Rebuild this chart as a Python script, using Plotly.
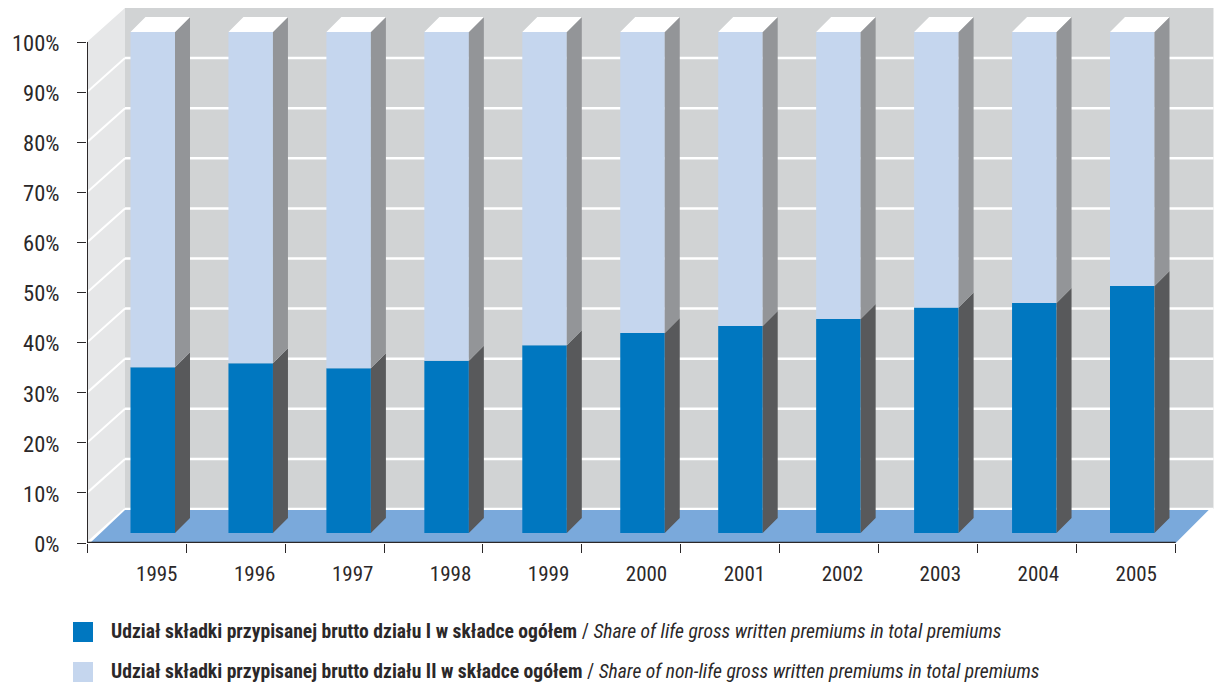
import plotly.graph_objects as go

years = [1995, 1996, 1997, 1998, 1999, 2000, 2001, 2002, 2003, 2004, 2005]
life_share = [33.1, 33.9, 32.9, 34.4, 37.5, 39.9, 41.3, 42.7, 45.0, 45.9, 49.3]
nonlife_share = [66.9, 66.1, 67.1, 65.6, 62.5, 60.1, 58.7, 57.3, 55.0, 54.1, 50.7]
y_ticks = [0, 10, 20, 30, 40, 50, 60, 70, 80, 90, 100]
y_labels = ["0%", "10%", "20%", "30%", "40%", "50%", "60%", "70%", "80%", "90%", "100%"]
legend_pl = ["Udział składki przypisanej brutto działu I w składce ogółem",
             "Udział składki przypisanej brutto działu II w składce ogółem"]
legend_en = ["Share of life gross written premiums in total premiums",
             "Share of non-life gross written premiums in total premiums"]

W, H = 1219, 688
FONT = "Roboto"
INK = "#2b2829"
BLUE, LIGHT = "#0077c0", "#c5d6ee"
SIDE_DARK, SIDE_MID = "#58595b", "#939598"
BACK, LEFT, FLOOR = "#d1d3d4", "#e6e7e8", "#7aa9db"

# scale: 97.95 px per year, 5.01 px per percent
PX_X, PX_Y = 97.95, 5.01
X0 = 1995 - (152.75 - 87) / PX_X
X1 = 1995 + (1213.7 - 152.75) / PX_X
Y1 = (543 - 8) / PX_Y
BAR_W = 44.5 / PX_X
LIFT = 10 / PX_Y                 # bars stand this far in front of the axis plane
DX, DY = 15 / PX_X, 15 / PX_Y    # bar depth
WX, WY = 38 / PX_X, 34 / PX_Y    # room depth
CELL = 98.97 / PX_X
XEND = X0 + 11 * CELL


def poly(points):
    return "M" + " L".join(f"{x:.4f},{y:.4f}" for x, y in points) + " Z"


def seg(x0, y0, x1, y1, color, width, layer="below"):
    return dict(type="line", xref="x", yref="y", x0=x0, y0=y0, x1=x1, y1=y1,
                line=dict(color=color, width=width), layer=layer)


shapes = [
    dict(type="path", xref="x", yref="y", layer="below", line_width=0, fillcolor=BACK,
         path=poly([(X0 + WX, WY), (X1, WY), (X1, Y1), (X0 + WX, Y1)])),
    dict(type="path", xref="x", yref="y", layer="below", line_width=0, fillcolor=LEFT,
         path=poly([(X0, 0), (X0 + WX, WY), (X0 + WX, Y1), (X0, 100)])),
]
for t in y_ticks[:-1]:
    shapes.append(seg(X0 + WX, t + WY, X1, t + WY, "white", 2.5))
    shapes.append(seg(X0, t, X0 + WX, t + WY, "white", 2))
shapes.append(dict(type="path", xref="x", yref="y", layer="below", line_width=0, fillcolor=FLOOR,
                   path=poly([(X0 + 3 / PX_X, 0), (XEND, 0), (XEND + 33 / PX_X, WY - 0.2), (X0 + WX, WY - 0.2)])))
shapes.append(seg(X0, 0, X0, 100, INK, 2, "above"))
shapes.append(seg(X0, 0, XEND, 0, INK, 2.5, "above"))

# legend swatches and text
annotations = []
for i, (color, pl, en) in enumerate(zip([BLUE, LIGHT], legend_pl, legend_en)):
    top = 622 + i * 40
    shapes.append(dict(type="rect", xref="paper", yref="paper", line_width=0, fillcolor=color,
                       x0=73 / W, x1=93 / W, y0=1 - (top + 20) / H, y1=1 - top / H))
    annotations.append(dict(xref="paper", yref="paper", x=109 / W, y=1 - (top + 9) / H,
                            xanchor="left", yanchor="middle", showarrow=False, align="left",
                            text=f"<b>{pl}</b> / <i>{en}</i>",
                            font=dict(family=FONT, size=19.6, color=INK)))


def face_trace(xs, ys, color):
    return go.Scatter(x=xs, y=ys, mode="none", fill="toself", fillcolor=color,
                      hoverinfo="skip", showlegend=False)


def side(base_vals, top_vals):
    xs, ys = [], []
    for yr, b, t in zip(years, base_vals, top_vals):
        xr = yr + BAR_W / 2
        xs += [xr, xr + DX, xr + DX, xr, None]
        ys += [b, b + DY, t + DY, t, None]
    return xs, ys


def caps(tops):
    xs, ys = [], []
    for yr, t in zip(years, tops):
        xl, xr = yr - BAR_W / 2, yr + BAR_W / 2
        xs += [xl, xr, xr + DX, xl + DX, None]
        ys += [t, t, t + DY, t + DY, None]
    return xs, ys


bases = [LIFT] * len(years)
mids = [LIFT + v for v in life_share]
tops = [m + v for m, v in zip(mids, nonlife_share)]

fig = go.Figure()
fig.add_trace(go.Bar(x=years, y=life_share, base=bases, width=BAR_W, marker=dict(color=BLUE, line_width=0),
                     name="life", showlegend=False))
fig.add_trace(go.Bar(x=years, y=nonlife_share, base=mids, width=BAR_W, marker=dict(color=LIGHT, line_width=0),
                     name="non-life", showlegend=False))
fig.add_trace(face_trace(*side(bases, mids), SIDE_DARK))
fig.add_trace(face_trace(*side(mids, tops), SIDE_MID))
fig.add_trace(face_trace(*caps(tops), "white"))

# second x axis only carries the tick marks on category boundaries
fig.add_trace(go.Scatter(x=[X0], y=[0], xaxis="x2", mode="none", hoverinfo="skip", showlegend=False))

fig.update_layout(
    width=W, height=H, autosize=False, barmode="overlay",
    margin=dict(l=0, r=0, t=0, b=0, autoexpand=False), paper_bgcolor="white", plot_bgcolor="white",
    showlegend=False, shapes=shapes, annotations=annotations,
    xaxis=dict(domain=[87 / W, 1213.7 / W], range=[X0, X1], showgrid=False, zeroline=False, showline=False,
               tickmode="array", tickvals=years, ticktext=[str(y) for y in years], ticks="",
               tickfont=dict(family=FONT, size=21, color=INK), ticklabelstandoff=16, ticklabelshift=4),
    xaxis2=dict(domain=[87 / W, 1213.7 / W], range=[X0, X1], overlaying="x", side="bottom", anchor="y",
                showgrid=False, zeroline=False, showline=False, showticklabels=False,
                tickmode="array", tickvals=[X0 + 0.001 + k * CELL for k in range(12)],
                ticks="outside", ticklen=9, tickwidth=1, tickcolor=INK),
    yaxis=dict(domain=[(H - 543) / H, (H - 8) / H], range=[0, Y1], showgrid=False, zeroline=False, showline=False,
               tickmode="array", tickvals=y_ticks, ticktext=y_labels, ticks="outside", ticklen=9,
               tickwidth=1, tickcolor=INK, tickfont=dict(family=FONT, size=22.5, color=INK),
               ticklabelstandoff=13, ticklabelshift=1),
)

fig.write_html("out.html", config=dict(displayModeBar=False),
               post_script="document.body.style.margin='0';document.documentElement.style.overflow='hidden';"
                           "document.head.insertAdjacentHTML('beforeend','<style>svg text{font-stretch:75%}</style>');")
